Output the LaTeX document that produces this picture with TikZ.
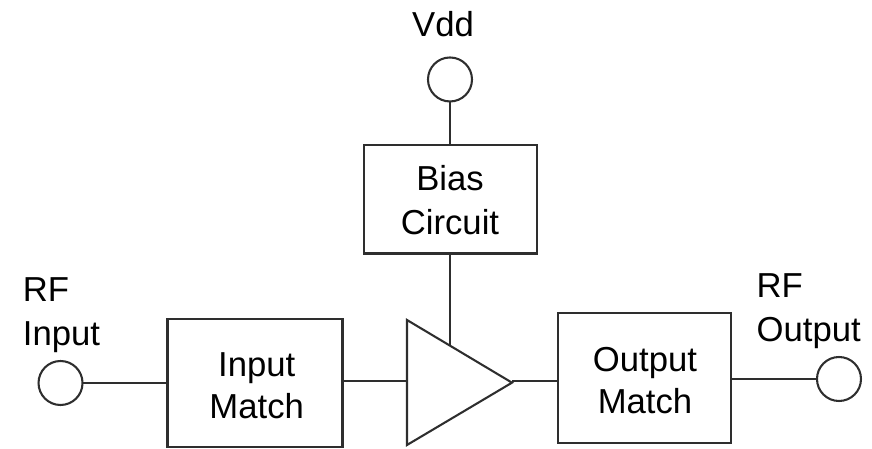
\documentclass[tikz,border=0pt]{standalone}
\usepackage{fontspec}
\setmainfont{Liberation Sans}
\newcommand{\twolines}[3][0pt]{\rule{0pt}{20pt}#2\\[#1]#3\rule[-6pt]{0pt}{6pt}}
\begin{document}
\begin{tikzpicture}[x=1pt,y=-1pt,
  ln/.style={draw=black!82,line width=1.55pt},
  blk/.style={ln,fill=white,anchor=north west,inner sep=0pt,outer sep=0pt},
  port/.style={circle,ln,fill=white,inner sep=0pt,outer sep=0pt,minimum size=33pt},
  lbl/.style={font=\fontsize{26}{33}\selectfont,align=center,text=black,inner sep=0pt,outer sep=0pt}]
\useasboundingbox (0,0) rectangle (654,336.75);
\node[port] (vdd) at (337.5,59.6) {};
\node[port] (rfin) at (45.4,287.25) {};
\node[port] (rfout) at (629.25,284.25) {};
\node[blk,minimum width=129.5pt,minimum height=81.4pt] (bias) at (273,108.75) {};
\node[blk,minimum width=131.25pt,minimum height=95.6pt] (imatch) at (125.6,239.6) {};
\node[blk,minimum width=129.75pt,minimum height=97.5pt] (omatch) at (418.5,234.75) {};
\coordinate (tritop) at (305.25,240);
\coordinate (tribot) at (305.25,333.75);
\coordinate (tritip) at (384,287);
\coordinate (tribias) at (337.5,259);
\coordinate (triin) at (305.25,285.75);
\coordinate (triout) at (384,285.75);
\draw[ln,fill=white,line join=miter] (tritop) -- (tritip) -- (tribot) -- cycle;
\draw[ln] (vdd.south) -- (vdd.south |- bias.north);
\draw[ln] (bias.south -| tribias) -- (tribias);
\draw[ln] (rfin.east) -- (imatch.west |- rfin.east);
\draw[ln] (imatch.east |- triin) -- (triin);
\draw[ln] (triout) -- (omatch.west |- triout);
\draw[ln] (omatch.east |- rfout.west) -- (rfout.west);
\node[lbl,anchor=base] (tvdd) at (332.25,27.75) {Vdd};
\node[lbl] (tbias) at (337.5,152.75) {\twolines{Bias}{Circuit}};
\node[lbl] (tim) at (192.5,291) {\twolines[-1.5pt]{Input}{Match}};
\node[lbl] (tom) at (483.75,287.6) {\twolines[-1.5pt]{Output}{Match}};
\node[lbl,align=left,anchor=west] (trfi) at (17.2,235.9) {\twolines{RF}{Input}};
\node[lbl,align=left,anchor=west] (trfo) at (567.5,232.5) {\twolines{RF}{Output}};
\end{tikzpicture}
\end{document}
